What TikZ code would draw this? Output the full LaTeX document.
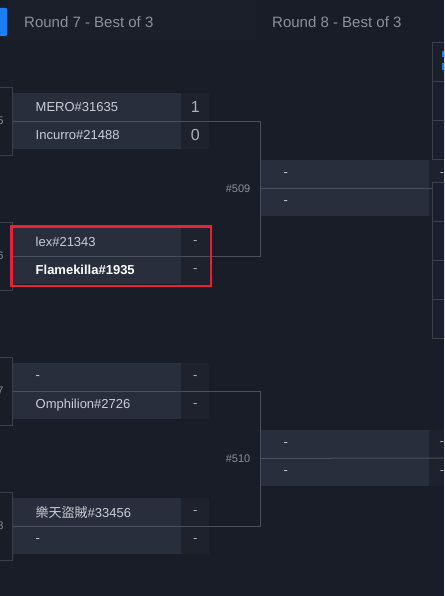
\documentclass[tikz,border=0pt]{standalone}
\usepackage{fontspec}
\setmainfont{Liberation Sans}
\newfontfamily\cjkfont{Noto Sans CJK TC}
\usetikzlibrary{calc}
\definecolor{bgcol}{HTML}{191D28}
\definecolor{headcol}{HTML}{1B1F2A}
\definecolor{rowcol}{HTML}{292E3D}
\definecolor{scorecol}{HTML}{1E222D}
\definecolor{linecol}{HTML}{4A4F5D}
\definecolor{stubcol}{HTML}{3A3F4B}
\definecolor{namecol}{HTML}{CACDD4}
\definecolor{greycol}{HTML}{8B909A}
\definecolor{redcol}{HTML}{E3243B}
\definecolor{bluecol}{HTML}{1A7FF0}
\tikzstyle{pbox} = [rectangle,fill=rowcol,minimum width=168pt,minimum height=28pt,inner sep=0pt,anchor=north west]
\tikzstyle{sbox} = [rectangle,fill=scorecol,minimum width=28pt,minimum height=28pt,inner sep=0pt,anchor=north west]
\tikzstyle{rbox} = [rectangle,fill=rowcol,minimum width=168.5pt,minimum height=28pt,inner sep=0pt,anchor=north west]
\tikzstyle{stub} = [rectangle,draw=stubcol,fill=bgcol,minimum width=24pt,minimum height=68pt,inner sep=0pt,anchor=north east]
\tikzstyle{cbox} = [rectangle,draw=stubcol,fill=headcol,minimum width=24pt,minimum height=39pt,inner sep=0pt,anchor=north west]
\tikzstyle{pname} = [anchor=west,inner sep=0pt,text=namecol,font=\fontsize{13}{15}\selectfont]
\tikzstyle{score} = [inner sep=0pt,text=greycol!70!white,font=\fontsize{13}{15}\selectfont]
\tikzstyle{small} = [inner sep=0pt,text=greycol,font=\fontsize{11}{13}\selectfont]
\tikzstyle{head} = [anchor=west,inner sep=0pt,text=greycol,font=\fontsize{15}{18}\selectfont]
\tikzstyle{conn} = [draw=linecol,line width=1pt]
\begin{document}
\begin{tikzpicture}[x=1pt,y=-1pt]
\useasboundingbox (0,0) rectangle (444,596);
\clip (0,0) rectangle (444,596);
\fill[bgcol] (0,0) rectangle (444,596);
% headers
\fill[headcol] (8,0) rectangle (256,40);
\fill[bluecol,rounded corners=1pt] (-3,8) rectangle (7,36);
\node[head] (h7) at (24,22) {Round 7 - Best of 3};
\node[head] (h8) at (272,22) {Round 8 - Best of 3};
% round 7
\foreach \m/\y/\na/\sa/\nb/\sb/\lbl in {505/93/MERO\#31635/{\fontsize{16}{18}\selectfont 1}/Incurro\#21488/{\fontsize{16}{18}\selectfont 0}/5,
  506/228/lex\#21343/-/{\bfseries\color{white}Flamekilla\#1935}/-/6,
  507/363/-/-/Omphilion\#2726/-/7,
  508/498/{\cjkfont 樂天盜賊}\#33456/-/-/-/8}{
  \node[stub] (s\m) at (12.5,\y-6) {};
  \node[small,anchor=east] at (3.8,\y+28) {\lbl};
  \node[pbox] (p\m-a) at (13,\y) {};
  \node[pbox] (p\m-b) at (13,\y+28) {};
  \node[sbox] (q\m-a) at (181,\y) {};
  \node[sbox] (q\m-b) at (181,\y+28) {};
  \node[pname] at ([xshift=22.5pt]p\m-a.west) {\na};
  \node[pname] at ([xshift=22.5pt]p\m-b.west) {\nb};
  \node[score] at (q\m-a) {\sa};
  \node[score] at (q\m-b) {\sb};
}
% round 8
\foreach \m/\y in {509/160,510/430}{
  \fill[scorecol] (429,\y) rectangle (444,\y+56);
  \node[rbox] (r\m-a) at (260.5,\y) {};
  \node[rbox] (r\m-b) at (260.5,\y+28) {};
  \node[pname] at ([xshift=23pt]r\m-a.west) {-};
  \node[pname] at ([xshift=23pt]r\m-b.west) {-};
  \node[small,anchor=east] (n\m) at ([xshift=-10pt]r\m-a.south west) {\#\m};
}
\node[score] at (442,473) {-};
\node[score] at (442,444) {-};
% next round column
\foreach \i/\y in {1/42,2/81,3/120,4/182,5/221,6/260,7/299}{
  \node[cbox] (c\i) at (432,\y) {};
}
\node[score] at (442,175) {-};
\fill[bluecol] (441.5,51) rectangle (446,57);
\fill[bluecol] (441.5,63.5) rectangle (446,70);
% connectors
\draw[conn] (p505-a.south west) -| (r509-a.south west) |- (p506-a.south west);
\draw[conn] (p507-a.south west) -| (r510-a.south west) |- (p508-a.south west);
\draw[conn] (r509-a.south west) -- (r509-a.south west -| c4.west);
\coordinate (e510) at (444,458);
\draw[conn] (r510-a.south west) -- (e510);
% highlight
\draw[redcol,line width=2.2pt] ([shift={(-1.5,-1.5)}]p506-a.north west) rectangle ([shift={(1.5,1.5)}]q506-b.south east);
\end{tikzpicture}
\end{document}
